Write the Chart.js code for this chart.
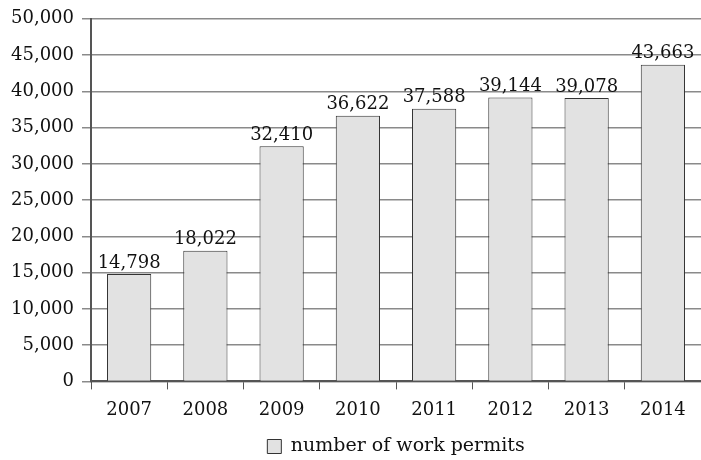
<!DOCTYPE html>
<html>
<head>
<meta charset="utf-8">
<script src="https://cdn.jsdelivr.net/npm/chart.js@4/dist/chart.umd.min.js"></script>
<style>
  html, body { margin: 0; padding: 0; background: #fff; }
  #wrap { width: 701px; height: 460px; }
</style>
</head>
<body>
<div id="wrap"><canvas id="myChart"></canvas></div>
<script>
// data
const years = ['2007', '2008', '2009', '2010', '2011', '2012', '2013', '2014'];
const permits = [14798, 18022, 32410, 36622, 37588, 39144, 39078, 43663];
const yTicks = [0, 5000, 10000, 15000, 20000, 25000, 30000, 35000, 40000, 45000, 50000];

const serif = "'DejaVu Serif', serif";
const fmt = v => v.toLocaleString('en-US');

// value labels over each bar
const barLabels = {
    id: 'barLabels',
    afterDatasetsDraw(chart) {
        const ctx = chart.ctx;
        const meta = chart.getDatasetMeta(0);
        ctx.save();
        ctx.font = '18px ' + serif;
        ctx.fillStyle = '#111';
        ctx.textAlign = 'center';
        ctx.textBaseline = 'bottom';
        meta.data.forEach((bar, i) => {
            ctx.fillText(fmt(permits[i]), bar.x, bar.y - 2);
        });
        ctx.restore();
    }
};

new Chart("myChart", {
    type: "bar",
    data: {
        labels: years,
        datasets: [{
            label: 'number of work permits',
            data: permits,
            backgroundColor: '#e2e2e2',
            borderColor: '#333',
            borderWidth: 1,
            categoryPercentage: 1,
            barPercentage: 0.58
        }]
    },
    options: {
        responsive: true,
        maintainAspectRatio: false,
        animation: false,
        layout: { padding: { top: 8, right: 0, left: 0, bottom: -6 } },
        scales: {
            x: {
                afterFit: s => { s.height += 6; },
                grid: { drawOnChartArea: false, drawTicks: true, tickLength: 8, color: '#555' },
                border: { color: '#555', width: 2 },
                ticks: { color: '#111', font: { family: serif, size: 18 }, padding: 10 }
            },
            y: {
                min: 0,
                max: 50000,
                afterFit: s => { s.width = 91; },
                afterBuildTicks: s => { s.ticks = yTicks.map(v => ({ value: v })); },
                grid: { color: '#8a8a8a', lineWidth: 1.5, tickLength: 9 },
                border: { color: '#555', width: 2 },
                ticks: {
                    color: '#111',
                    font: { family: serif, size: 18 },
                    padding: 8,
                    callback: v => fmt(v)
                }
            }
        },
        plugins: {
            legend: {
                position: 'bottom',
                fullSize: false,
                labels: {
                    color: '#111',
                    font: { family: serif, size: 19 },
                    boxWidth: 14,
                    boxHeight: 14,
                    padding: 0
                }
            },
            tooltip: { enabled: false }
        }
    },
    plugins: [barLabels]
});
</script>
</body>
</html>
